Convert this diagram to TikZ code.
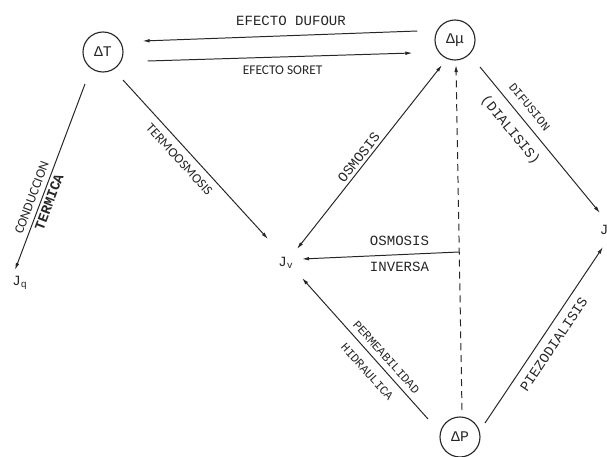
\documentclass[tikz,border=0pt]{standalone}
\usepackage{fontspec}
\usepackage{tikz}
\usetikzlibrary{calc,arrows.meta}
\newfontfamily\monofont{Liberation Mono}
\newfontfamily\narrowsans{Carlito}

\begin{document}
\begin{tikzpicture}[x=0.025cm,y=0.025cm,black!85]
\tikzstyle{fuerza} = [draw, circle, line width=0.8pt, minimum size=1cm, inner sep=0pt, font=\monofont\fontsize{10.5}{12}\selectfont];
\tikzstyle{flujo} = [inner sep=1pt, font=\monofont\fontsize{10}{12}\selectfont];
\tikzstyle{flecha} = [-{Latex[length=5pt,width=2.6pt]}, line width=0.7pt];
\tikzstyle{doble} = [{Latex[length=5pt,width=2.6pt]}-{Latex[length=5pt,width=2.6pt]}, line width=0.7pt];
\tikzstyle{etiqueta} = [font=\monofont\fontsize{10}{12}\selectfont, inner sep=2pt];
\tikzstyle{negrita} = [font=\monofont\bfseries\fontsize{10}{12}\selectfont, inner sep=2pt];
\tikzstyle{chica} = [font=\monofont\fontsize{8.5}{10}\selectfont, inner sep=2pt];
\tikzstyle{estrecha} = [font=\narrowsans\fontsize{9.5}{11}\selectfont, inner sep=2pt];
\useasboundingbox (0,0) rectangle (607,456);
% fuerzas
\node [fuerza] (T) at (103,404) {ΔT};
\node [fuerza] (mu) at (455,416) {Δμ};
\node [fuerza] (P) at (460,19) {ΔP};
% flujos
\node [flujo] (Jq) at (20,173) {J\textsubscript{q}};
\node [flujo] (Jv) at (286,193) {J\textsubscript{v}};
\node [flujo] (Js) at (604,226) {J};
% efectos
\draw [flecha] ($(mu.west)+(-17,9)$) -- node [etiqueta, above=4.4pt, pos=0.46] {EFECTO DUFOUR} ($(T.east)+(19,11)$);
\draw [flecha] ($(T.east)+(24,-9)$) -- node [estrecha, below=3.7pt, pos=0.51] {EFECTO SORET} ($(mu.west)+(-22,-13)$);
\draw [flecha] ($(T)+(-18,-32)$) -- node [estrecha, sloped, above=1.5pt, pos=0.63] {CONDUCCION} node [negrita, sloped, below=0pt, pos=0.62] {TERMICA} ($(Jq)+(-5,13)$);
\draw [flecha] ($(T)+(20,-28)$) -- node [estrecha, sloped, below=3pt, pos=0.45] {TERMOOSMOSIS} ($(Jv)+(-18,24)$);
\draw [doble] ($(Jv)+(11,14)$) -- node [etiqueta, sloped, above=0pt, pos=0.47] {OSMOSIS} ($(mu)+(-13,-25)$);
\draw [flecha] ($(mu)+(25,-27)$) -- node [chica, sloped, above=4pt, pos=0.33] {DIFUSION} node [etiqueta, sloped, below=5pt, pos=0.36] {(DIALISIS)} ($(Js)+(-4,17)$);
\draw [flecha, dash pattern=on 5pt off 3.5pt] ($(P)+(2,27)$) -- coordinate [pos=0.458] (inv) ($(mu)+(1,-25)$);
\draw [flecha] (inv) -- node [etiqueta, above=4pt, pos=0.38] {OSMOSIS} node [etiqueta, below=3pt, pos=0.38] {INVERSA} ($(Jv)+(16,4)$);
\draw [flecha] ($(P)+(-32,18)$) -- node [chica, sloped, above=2pt, pos=0.39] {PERMEABILIDAD} node [chica, sloped, below=4.7pt, pos=0.40] {HIDRAULICA} ($(Jv)+(16,-15)$);
\draw [flecha] ($(P)+(25,14)$) -- node [etiqueta, sloped, below=3.6pt, pos=0.49] {PIEZODIALISIS} ($(Js)+(-1,-17)$);
\end{tikzpicture}
\end{document}
